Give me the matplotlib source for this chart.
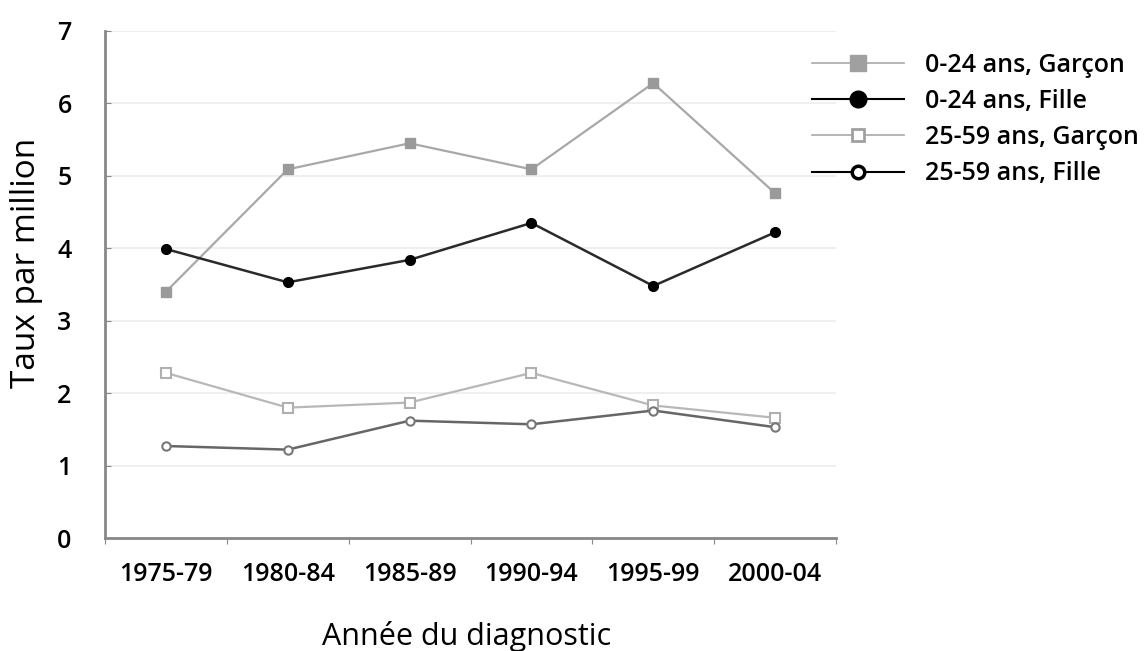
import matplotlib.pyplot as plt
from matplotlib.lines import Line2D

periodes = ['1975-79', '1980-84', '1985-89', '1990-94', '1995-99', '2000-04']
garcon_0_24 = [3.40, 5.09, 5.45, 5.09, 6.28, 4.76]
fille_0_24 = [3.99, 3.53, 3.84, 4.35, 3.48, 4.22]
garcon_25_59 = [2.28, 1.80, 1.87, 2.28, 1.83, 1.66]
fille_25_59 = [1.27, 1.22, 1.62, 1.57, 1.76, 1.53]
etiquettes = ['0-24 ans, Garçon', '0-24 ans, Fille', '25-59 ans, Garçon', '25-59 ans, Fille']

plt.rcParams['font.family'] = ['Open Sans', 'DejaVu Sans']

fig = plt.figure(figsize=(11.46, 6.51), dpi=100)
ax = fig.add_axes([105 / 1146, 1 - 538 / 651, (836 - 105) / 1146, (538 - 31) / 651])

x = range(len(periodes))
ax.plot(x, garcon_25_59, color='#b8b8b8', lw=1.6, marker='s', ms=7,
        mfc='white', mec='#b0b0b0', mew=1.5, zorder=3)
ax.plot(x, fille_25_59, color='#666666', lw=1.8, marker='o', ms=6,
        mfc='white', mec='#777777', mew=1.5, zorder=3)
ax.plot(x, garcon_0_24, color='#a8a8a8', lw=1.6, marker='s', ms=7,
        mfc='#9a9a9a', mec='#9a9a9a', zorder=3)
ax.plot(x, fille_0_24, color='#2a2a2a', lw=1.8, marker='o', ms=7,
        mfc='black', mec='black', zorder=3)

ax.set_xlim(-0.5, 5.5)
ax.set_ylim(0, 7)
ax.set_yticks(range(8))
ax.set_xticks([i - 0.5 for i in range(7)], minor=False)
ax.set_xticklabels([])
ax.set_xticks(list(x), minor=True)
ax.set_xticklabels(periodes, minor=True, fontsize=18, fontweight='semibold')
ax.tick_params(axis='x', which='minor', length=0, pad=17)
ax.tick_params(axis='x', which='major', length=4, direction='out', color='#888888')
ax.tick_params(axis='y', length=4, direction='in', color='#888888', labelsize=18, pad=24)
for lab in ax.get_yticklabels():
    lab.set_fontweight('semibold')
ax.grid(axis='y', color='#ececec', lw=1.2)
ax.set_axisbelow(True)
for s in ['top', 'right']:
    ax.spines[s].set_visible(False)
ax.spines['left'].set_color('#888888')
ax.spines['left'].set_linewidth(2)
ax.spines['bottom'].set_color('#888888')
ax.spines['bottom'].set_linewidth(2)

ax.set_xlabel('Année du diagnostic', fontsize=22, labelpad=25)
ax.xaxis.label.set_x(0.495)
ax.set_ylabel('Taux par million', fontsize=24)
ax.yaxis.set_label_coords(-0.085, 0.542)

poignees = [
    Line2D([], [], color='#a8a8a8', lw=1.2, marker='s', ms=11, mfc='#a0a0a0', mec='#a0a0a0'),
    Line2D([], [], color='black', lw=1.5, marker='o', ms=12, mfc='black', mec='black'),
    Line2D([], [], color='#a8a8a8', lw=1.2, marker='s', ms=9, mfc='white', mec='#a0a0a0', mew=2),
    Line2D([], [], color='black', lw=1.5, marker='o', ms=9, mfc='white', mec='black', mew=2.5),
]
leg = fig.legend(poignees, etiquettes, loc='upper left', bbox_to_anchor=(789 / 1146, 1 - 30 / 651),
                 frameon=False, handlelength=3.7, handletextpad=0.85, labelspacing=0.45,
                 prop={'size': 18, 'weight': 'semibold'})

fig.savefig('out.png', dpi=100)
